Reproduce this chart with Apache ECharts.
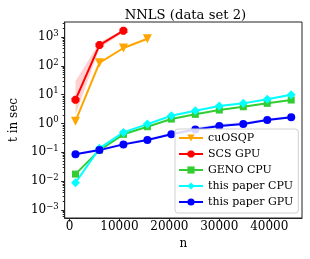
<!DOCTYPE html>
<html><head><meta charset="utf-8">
<script src="https://cdn.jsdelivr.net/npm/echarts@6/dist/echarts.min.js"></script>
<style>html,body{margin:0;padding:0;background:#fff}#c{width:310px;height:259px}</style>
</head><body><div id="c"></div>
<script>
// ---- data ----
const nAll = [1200, 6000, 10800, 15600, 20400, 25200, 30000, 34800, 39600, 44400];
const cuosqp = [1.2, 127, 415, 870];
const scsGpu = [6.6, 525, 1650];
const scsLow = [2.0, 400, 1450];
const scsHigh = [30, 650, 1800];
const genoCpu = [0.0175, 0.119, 0.42, 0.77, 1.42, 2.07, 2.92, 3.8, 4.98, 6.5];
const paperCpu = [0.0088, 0.137, 0.49, 0.95, 1.85, 2.76, 4.0, 4.98, 6.86, 9.9];
const paperGpu = [0.085, 0.119, 0.188, 0.265, 0.42, 0.62, 0.81, 0.95, 1.31, 1.63];
const gpuLow = [0.08, 0.11, 0.175, 0.245, 0.39, 0.57, 0.75, 0.88, 1.22, 1.52];
const gpuHigh = [0.095, 0.135, 0.21, 0.3, 0.48, 0.72, 0.95, 1.1, 1.5, 1.85];
const cpuLow = [0.0082, 0.13, 0.46, 0.9, 1.75, 2.6, 3.8, 4.7, 6.5, 9.4];
const cpuHigh = [0.0095, 0.145, 0.53, 1.02, 2.0, 2.95, 4.3, 5.3, 7.3, 10.6];
const names = ['cuOSQP', 'SCS GPU', 'GENO CPU', 'this paper CPU', 'this paper GPU'];
const colors = ['#FFA500', '#FF0000', '#32CD32', '#00FFFF', '#0000FF'];
const xTicks = [0, 10000, 20000, 30000, 40000];
const yExps = [-3, -2, -1, 0, 1, 2, 3];
const yMinorMult = [2, 3, 4, 5, 6, 7, 8, 9];

const FONT = 'DejaVu Serif';
const lg = v => Math.log10(v);
const pts = vals => vals.map((v, i) => [nAll[i], lg(v)]);

const yMinor = [];
for (let e = -4; e <= 3; e++) yMinorMult.forEach(m => {
  const l = Math.log10(m) + e;
  if (l > -3.28 && l < 3.52) yMinor.push(l);
});

function band(lo, hi, color, opacity) {
  return {
    type: 'custom', silent: true, z: 1, clip: true,
    data: [[nAll[0], lg(lo[0])]],
    renderItem: (params, api) => {
      const up = hi.map((v, i) => api.coord([nAll[i], lg(v)]));
      const dn = lo.map((v, i) => api.coord([nAll[i], lg(v)])).reverse();
      return { type: 'polygon', shape: { points: up.concat(dn) },
        style: { fill: color, opacity: opacity } };
    }
  };
}

const octagon = 'path://M30,0 L70,0 L100,30 L100,70 L70,100 L30,100 L0,70 L0,30 Z';

function main(name, vals, color, symbol, size, rot) {
  return { name: name, type: 'line', data: pts(vals), symbol: symbol, symbolSize: size,
    symbolRotate: rot || 0, showAllSymbol: true,
    lineStyle: { color: color, width: 2 }, itemStyle: { color: color }, z: 3 };
}

const series = [
  band(scsLow, scsHigh, '#FF0000', 0.18),
  band(cpuLow, cpuHigh, '#00FFFF', 0.2),
  band(gpuLow, gpuHigh, '#0000FF', 0.15),
  main(names[0], cuosqp, colors[0], 'triangle', 9, 180),
  main(names[1], scsGpu, colors[1], octagon, 8),
  main(names[2], genoCpu, colors[2], 'rect', 7),
  main(names[3], paperCpu, colors[3], 'diamond', 9),
  main(names[4], paperGpu, colors[4], 'circle', 8)
];

const chart = echarts.init(document.getElementById('c'), null, { renderer: 'canvas' });
chart.setOption({
  animation: false,
  backgroundColor: '#fff',
  textStyle: { fontFamily: FONT },
  title: { text: 'NNLS (data set 2)', left: 180.5, top: 4, textAlign: 'center',
    textStyle: { fontFamily: FONT, fontSize: 13.2, fontWeight: 'normal', color: '#000' } },
  grid: { left: 59, right: 8, top: 22, bottom: 41, show: true, borderColor: '#222', borderWidth: 1, backgroundColor: 'transparent' },
  legend: {
    data: names, orient: 'vertical', left: 175, top: 129,
    padding: [1, 5, 3, 3], itemGap: 0, itemWidth: 24, itemHeight: 9,
    backgroundColor: 'rgba(255,255,255,0.85)', borderColor: '#d0d0d0', borderWidth: 1, borderRadius: 3,
    textStyle: { fontFamily: FONT, fontSize: 11, color: '#000', lineHeight: 16 }
  },
  xAxis: {
    type: 'value', min: -960, max: 46560,
    name: 'n', nameLocation: 'middle', nameGap: 17,
    nameTextStyle: { fontFamily: FONT, fontSize: 12, color: '#000' },
    axisLine: { show: true, onZero: false, lineStyle: { color: '#222' } },
    axisTick: { show: true, length: 3.5, lineStyle: { color: '#222' }, customValues: xTicks },
    axisLabel: { fontFamily: FONT, fontSize: 12, color: '#000', margin: 3, customValues: xTicks,
      formatter: v => String(Math.round(v)) },
    splitLine: { show: false }
  },
  yAxis: [{
    type: 'value', min: -3.28, max: 3.52,
    name: 't in sec', nameLocation: 'middle', nameGap: 40, nameRotate: 90,
    nameTextStyle: { fontFamily: FONT, fontSize: 12, color: '#000' },
    axisLine: { show: true, onZero: false, lineStyle: { color: '#222' } },
    axisTick: { show: true, length: 3.5, lineStyle: { color: '#222' }, customValues: yExps },
    axisLabel: {
      margin: 6, customValues: yExps,
      formatter: v => '{b|10}{s|' + String(Math.round(v)).replace('-', '\u2212') + '}',
      rich: {
        b: { fontFamily: FONT, fontSize: 12, color: '#000' },
        s: { fontFamily: FONT, fontSize: 8.5, color: '#000', padding: [0, 0, 7, 0] }
      }
    },
    splitLine: { show: false }
  }, {
    type: 'value', min: -3.28, max: 3.52, position: 'left',
    axisLine: { show: false, onZero: false },
    axisTick: { show: true, length: 2, lineStyle: { color: '#222' }, customValues: yMinor },
    axisLabel: { show: false }, splitLine: { show: false }
  }],
  series: series
});
</script></body></html>
